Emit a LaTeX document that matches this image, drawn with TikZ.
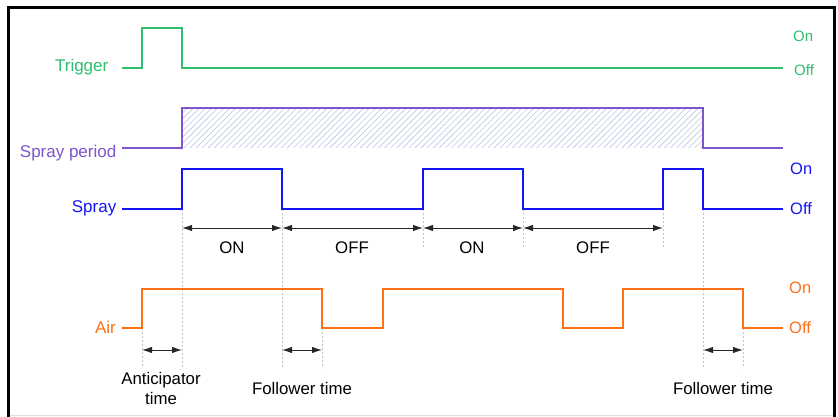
\documentclass[tikz,border=0pt]{standalone}
\usepackage{fontspec}
\setmainfont{Liberation Sans}
\usetikzlibrary{arrows.meta,patterns.meta}
\definecolor{trigcol}{RGB}{46,190,110}
\definecolor{percol}{RGB}{125,85,205}
\definecolor{hatchcol}{RGB}{198,208,232}
\definecolor{spraycol}{RGB}{20,20,250}
\definecolor{aircol}{RGB}{255,112,25}
\definecolor{guidecol}{RGB}{195,195,195}

\begin{document}
\begin{tikzpicture}[x=1pt, y=-1pt,
    wave/.style={line width=1.6pt, line join=miter},
    guide/.style={draw=guidecol, line width=0.8pt, dash pattern=on 2pt off 2pt},
    span/.style={{Latex[length=10pt,width=6.5pt]}-{Latex[length=10pt,width=6.5pt]}, line width=1pt, black!85},
    sig/.style={font=\fontsize{17}{19}\selectfont, anchor=east, inner sep=0pt},
    lvl/.style={font=\fontsize{16.5}{19}\selectfont, anchor=west, inner sep=0pt},
    lab/.style={font=\fontsize{16.8}{20}\selectfont, align=center},
]
    \useasboundingbox (0,0) rectangle (838,417);
    \draw[line width=3pt] (8.5,417) -- (8.5,8) -- (834,8) -- (834,417);
    \draw[black!12, line width=1pt] (10,415.5) -- (832.5,415.5);

    \foreach \gx in {142,322,743} \draw[guide] (\gx,328) -- (\gx,368);
    \foreach \gx in {182,282,703} \draw[guide] (\gx,209) -- (\gx,368);
    \foreach \gx in {423,523,663} \draw[guide] (\gx,209) -- (\gx,247);

    \fill[pattern={Lines[angle=45,distance=4.3pt,line width=0.8pt]}, pattern color=hatchcol] (182,108) rectangle (703,148);

    \draw[wave, trigcol] (122,68) -- (142,68) |- (182,28) |- (783,68);
    \draw[wave, percol] (122,148) -- (182,148) |- (703,108) |- (783,148);
    \draw[wave, spraycol, line width=2.2pt] (122,209) -- (182,209) |- (282,169) |- (423,209) |- (523,169) |- (663,209) |- (703,169) |- (783,209);
    \draw[wave, aircol, line width=2pt] (122,328) -- (142,328) |- (322,289) |- (383,328) |- (563,289) |- (623,328) |- (743,289) |- (783,328);

    \node[sig, trigcol] (trig) at (108.5,67.5) {Trigger};
    \node[sig, percol] (per) at (116.5,153) {Spray period};
    \node[sig, spraycol] (spray) at (116.5,208.5) {Spray};
    \node[sig, aircol] (air) at (116,327.5) {Air};

    \node[lvl, trigcol, font=\fontsize{15}{18}\selectfont] (trigon) at (793,36) {On};
    \node[lvl, trigcol, font=\fontsize{15}{18}\selectfont] (trigoff) at (794,70) {Off};
    \node[lvl, spraycol] (sprayon) at (790,168.5) {On};
    \node[lvl, spraycol] (sprayoff) at (790,208.5) {Off};
    \node[lvl, aircol] (airon) at (789,287.5) {On};
    \node[lvl, aircol] (airoff) at (789,327.5) {Off};

    \foreach \i/\gx in {1/182,2/282,3/423,4/523,5/663} \coordinate (e\i) at (\gx,228);
    \draw[span] (e1) -- (e2);
    \draw[span] (e2) -- (e3);
    \draw[span] (e3) -- (e4);
    \draw[span] (e4) -- (e5);
    \node[lab] (on1) at (232,248) {ON};
    \node[lab] (off1) at (352,248) {OFF};
    \node[lab] (on2) at (472,248) {ON};
    \node[lab] (off2) at (593,248) {OFF};

    \coordinate (a1) at (142,350);
    \coordinate (a2) at (182,350);
    \coordinate (f1) at (282,350);
    \coordinate (f2) at (322,350);
    \coordinate (g1) at (703,350);
    \coordinate (g2) at (743,350);
    \draw[span] (a1) -- (a2);
    \draw[span] (f1) -- (f2);
    \draw[span] (g1) -- (g2);
    \node[lab] (antic) at (161,388) {Anticipator\\time};
    \node[lab] (foll1) at (302,388) {Follower time};
    \node[lab] (foll2) at (723,388) {Follower time};
\end{tikzpicture}
\end{document}
